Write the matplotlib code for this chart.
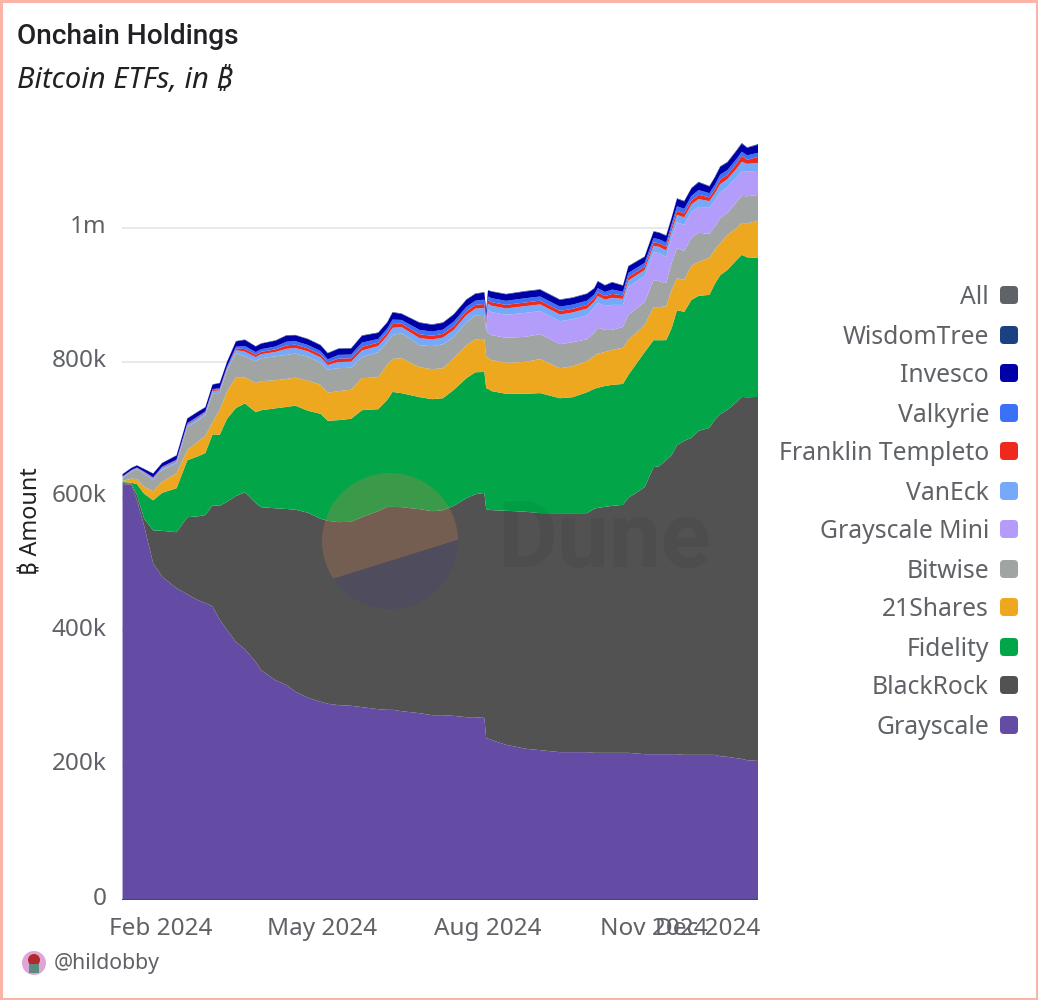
#!/usr/bin/env python3
"""Onchain Holdings - bitcoin ETF holdings as a stacked area chart."""
import matplotlib
matplotlib.use("Agg")
import matplotlib.dates as mdates
import matplotlib.pyplot as plt
import pandas as pd
from matplotlib.patches import Circle, FancyBboxPatch, Polygon, Rectangle
from matplotlib.transforms import ScaledTranslation

plt.rcParams["font.family"] = ["Noto Sans", "DejaVu Sans"]
HEAD_FONT = ["Roboto", "DejaVu Sans"]

# days since the first trading day, holdings in thousands of BTC
launch = pd.Timestamp("2024-01-11")
day_offsets = [
    0, 5, 8, 12, 17, 22, 30, 36, 42, 46,
    50, 54, 58, 63, 68, 74, 77, 85, 91, 96,
    103, 110, 114, 120, 127, 133, 142, 147, 150, 155,
    165, 172, 178, 184, 191, 196, 201, 202, 203, 205,
    213, 224, 232, 243, 250, 258, 262, 264, 268, 272,
    278, 281, 290, 295, 298, 302, 305, 308, 312, 316,
    320, 326, 329, 332, 336, 341, 344, 347, 353,
]
grayscale = [
    619, 618, 595, 557, 501, 481, 464, 455, 446, 442,
    437, 417, 402, 384, 373, 354, 342, 327, 320, 310,
    301, 295, 292, 290, 289, 287, 284, 283, 283, 281,
    278, 275, 275, 274, 272, 272, 271, 241, 240, 238,
    231, 225, 223, 220, 220, 220, 219, 219, 219, 219,
    219, 219, 217, 217, 217, 217, 217, 217, 216, 216,
    216, 216, 216, 214, 213, 211, 210, 208, 207,
]
blackrock = [
    0, 1.5, 7.4, 10.4, 49.1, 68.4, 83.3, 114.6, 125, 130.9,
    150.3, 169.6, 190.5, 217.2, 233.6, 236.6, 242.5, 255.9, 261.9, 270.8,
    275.3, 272.3, 272.3, 272.3, 273.8, 282.7, 294.6, 302, 302, 303.6,
    303.6, 303.6, 305, 312.5, 325.9, 331.8, 334.8, 340.8, 340.8, 342.2,
    348.2, 352.7, 352.7, 355.6, 355.6, 355.6, 363.1, 364.6, 366, 367.5,
    369, 379.4, 397.3, 427.1, 428.5, 437.5, 444.9, 459.8, 467.2, 471.7,
    482.1, 486.6, 498.5, 508.9, 516.3, 529.7, 538.7, 540.1, 541.6,
]
fidelity = [
    3, 1.5, 16.4, 37.2, 44.6, 56.5, 65.5, 84.8, 89.3, 92.3,
    105.6, 105.6, 123.5, 130.9, 132.4, 135.4, 144.3, 148.8, 151.8, 154.8,
    151.8, 156.2, 148.8, 151.8, 153.3, 159.2, 151.8, 159.2, 171.1, 169.6,
    166.7, 166.7, 166.7, 172.6, 178.6, 181.5, 180, 180, 180, 177.1,
    174.1, 175.6, 178.6, 171.1, 172.6, 180, 178.6, 178.6, 180, 180,
    180, 183, 200.9, 189, 187.5, 178.6, 189, 200.9, 192, 205.3,
    200.9, 197.9, 202.4, 206.8, 208.3, 211.3, 211.3, 208.3, 206.8,
]
shares21 = [
    1.5, 6, 7.4, 10.4, 13.4, 16.4, 22.3, 14.9, 22.3, 25.3,
    17.9, 37.2, 40.2, 46.1, 38.7, 43.2, 43.2, 41.7, 41.7, 41.7,
    44.6, 43.2, 41.7, 43.2, 43.2, 47.6, 47.6, 52.1, 49.1, 52.1,
    44.6, 44.6, 44.6, 47.6, 49.1, 49.1, 49.1, 47.6, 46.1, 46.1,
    46.1, 47.6, 50.6, 44.6, 46.1, 46.1, 49.1, 50.6, 50.6, 52.1,
    53.6, 52.1, 40.2, 49.1, 49.1, 50.6, 56.5, 47.6, 47.6, 50.6,
    50.6, 55.1, 50.6, 47.6, 52.1, 47.6, 47.6, 50.6, 55.1,
]
bitwise = [
    4.5, 10.4, 14.9, 19.3, 16.4, 17.9, 14.9, 34.2, 31.2, 31.2,
    43.2, 25.3, 31.2, 35.7, 31.2, 32.7, 34.2, 35.7, 35.7, 35.7,
    35.7, 32.7, 34.2, 34.2, 32.7, 31.2, 37.2, 34.2, 35.7, 37.2,
    32.7, 34.2, 35.7, 31.2, 34.2, 35.7, 35.7, 38.7, 37.2, 37.2,
    37.2, 37.2, 37.2, 35.7, 35.7, 32.7, 34.2, 38.7, 32.7, 29.8,
    31.2, 37.2, 34.2, 40.2, 38.7, 34.2, 40.2, 44.6, 43.2, 41.7,
    43.2, 35.7, 34.2, 37.2, 32.7, 38.7, 40.2, 40.2, 38.7,
]
grayscale_mini = [0] * 38 + [
    34.2, 34.2, 34.2, 35.7, 34.2, 34.2, 34.2, 35.7, 37.2, 37.2,
    35.7, 37.2, 32.7, 41.7, 38.7, 41.7, 41.7, 38.7, 38.7, 38.7,
    38.7, 38.7, 38.7, 38.7, 38.7, 38.7, 38.7, 37.2, 37.2, 37.2, 34.2,
]
vaneck = [
    1.5, 1.5, 1.5, 1.8, 2.6, 2.6, 3, 3.4, 3.4, 3,
    3.4, 3.7, 3.4, 4.5, 7, 6, 6, 6.5, 9, 8.5,
    8, 8, 7, 9, 9, 10, 9, 9, 10.5, 9,
    10.5, 10, 10, 10.5, 10.5, 10, 10.5, 9, 9, 9.5,
    9.5, 10, 10, 10, 10, 10, 9, 10, 9.5, 10.5,
    9, 9.5, 9, 9.5, 9.5, 10, 9, 11, 11, 11,
    11.5, 10, 11, 12, 11.5, 12.5, 13.5, 11, 13.5,
]
franklin = [
    0.5, 0.5, 0.5, 0.7, 1, 1, 1.2, 1.4, 1.4, 1.2,
    1.4, 1.6, 1.4, 2.2, 4, 3.5, 3.5, 3.8, 5.2, 5,
    4.5, 4.5, 4, 5.2, 5.2, 5.5, 5.2, 5.2, 5.8, 5.2,
    5.8, 5.5, 5.5, 5.8, 5.8, 5.5, 5.8, 5.2, 5.2, 5.3,
    5.3, 5.5, 5.5, 5.5, 5.5, 5.5, 5.2, 5.5, 5.3, 5.8,
    5.2, 5.3, 5.2, 5.3, 5.3, 5.5, 5.2, 6, 6, 6,
    6.5, 5.5, 6, 7, 6.5, 7.5, 9, 6, 9,
]
valkyrie = [
    0.5, 0.5, 0.5, 0.7, 1, 1, 1.2, 1.4, 1.4, 1.2,
    1.4, 1.7, 1.4, 2.7, 4.5, 4, 4, 4.3, 5.5, 5.2,
    5, 5, 4.5, 5.5, 5.5, 6.3, 5.5, 5.5, 6.5, 5.5,
    6.5, 6.3, 6.3, 6.5, 6.5, 6.3, 6.5, 5.5, 5.5, 6,
    6, 6.3, 6.3, 6.3, 6.3, 6.3, 5.5, 6.3, 6, 6.5,
    5.5, 6, 5.5, 6, 6, 6.3, 5.5, 6.8, 6.8, 6.8,
    7, 6.3, 6.8, 7.2, 7, 7, 6, 6.8, 6,
]
invesco = [
    3, 3, 3, 3.8, 5.4, 5.4, 6, 6.7, 6.7, 6,
    6.7, 7.4, 6.7, 7.9, 9, 8.2, 8.2, 8.6, 9, 8.6,
    8.6, 8.6, 9, 9, 9, 10, 9, 9, 10.5, 9,
    10.5, 10, 10, 10.5, 10.5, 10, 10.5, 9, 9, 9.7,
    9.7, 10, 10, 10, 10, 10, 9, 10, 9.7, 10.5,
    9, 9.7, 9, 9.7, 9.7, 10, 9, 11, 11, 11,
    11.4, 10, 11, 11.5, 11.4, 12.2, 12, 11, 12,
]
wisdomtree = [
    0.4, 0.4, 0.4, 0.4, 0.4, 0.4, 0.5, 0.5, 0.5, 0.5,
    0.5, 0.5, 0.5, 0.6, 0.7, 0.6, 0.6, 0.6, 0.7, 0.7,
    0.7, 0.7, 0.7, 0.7, 0.7, 0.8, 0.7, 0.7, 0.8, 0.7,
    0.8, 0.8, 0.8, 0.8, 0.8, 0.8, 0.8, 0.7, 0.7, 0.7,
    0.7, 0.8, 0.8, 0.8, 0.8, 0.8, 0.7, 0.8, 0.7, 0.8,
    0.7, 0.7, 0.7, 0.7, 0.7, 0.8, 0.7, 0.9, 0.9, 0.9,
    0.9, 0.8, 0.9, 1, 0.9, 1, 1, 0.9, 1,
]

stack_values = [grayscale, blackrock, fidelity, shares21, bitwise, grayscale_mini,
                vaneck, franklin, valkyrie, invesco, wisdomtree]
stack_colors = ["#644CA5", "#525252", "#02A649", "#EEA81F", "#A0A4A3", "#B49CFB",
                "#76A9FA", "#EE2A1E", "#3B71F7", "#0000A8", "#1A4282"]
legend_names = ["All", "WisdomTree", "Invesco", "Valkyrie", "Franklin Templeto", "VanEck",
                "Grayscale Mini", "Bitwise", "21Shares", "Fidelity", "BlackRock", "Grayscale"]
legend_colors = ["#5F6266"] + stack_colors[::-1]
legend_rows = [295, 335, 373, 413, 451, 491, 529, 569, 607, 647, 685, 725]

y_ticks = [0, 200, 400, 600, 800, 1000]
y_tick_labels = ["0", "200k", "400k", "600k", "800k", "1m"]
x_ticks = ["2024-02-01", "2024-05-01", "2024-08-01", "2024-11-01", "2024-12-01"]
x_tick_labels = ["Feb 2024", "May 2024", "Aug 2024", "Nov 2024", "Dec 2024"]

GREY = "#5F6266"
W, H = 1038, 1000

dates = launch + pd.to_timedelta(day_offsets, unit="D")

fig = plt.figure(figsize=(W / 100, H / 100), dpi=100, facecolor="white")
ax = fig.add_axes([122 / W, 1 - 900 / H, (758 - 122) / W, (900 - 130) / H])
ax.stackplot(dates, stack_values, colors=stack_colors, linewidth=0, zorder=3)
ax.axhline(0, color="#4A4560", lw=1.5, zorder=4)

ax.set_xlim(launch - pd.Timedelta(days=0.3), launch + pd.Timedelta(days=353))
ax.set_ylim(0, (900 - 130) / 0.672)
ax.set_yticks(y_ticks)
ax.set_yticklabels(y_tick_labels, fontsize=17.5, color=GREY)
ax.set_xticks(mdates.date2num(pd.to_datetime(x_ticks)))
ax.set_xticklabels(x_tick_labels, fontsize=17.5, color=GREY)
ax.tick_params(length=0)
ax.tick_params(axis="y", pad=11)
ax.tick_params(axis="x", pad=12.5)
ax.grid(axis="y", color="#E8E9EB", lw=1.5, zorder=0)
ax.set_axisbelow(True)
for s in ax.spines.values():
    s.set_visible(False)
# the tick labels sit slightly above their grid lines
shift = ScaledTranslation(0, 3 / 72, fig.dpi_scale_trans)
for lab in ax.get_yticklabels():
    lab.set_transform(lab.get_transform() + shift)

# everything else is placed in image pixels
over = fig.add_axes([0, 0, 1, 1], facecolor="none")
over.set_xlim(0, W)
over.set_ylim(H, 0)
over.axis("off")

over.add_patch(Rectangle((1, 1), W - 2, H - 2, fill=False, ec="#FBB4A8", lw=2.2))
over.text(17, 37, "Onchain Holdings", fontsize=20.2, fontweight="medium", family=HEAD_FONT,
          color="#1F2124", va="center")
over.text(17, 80, "Bitcoin ETFs, in ₿", fontsize=21, style="italic", color="#1F2124", va="center")
over.text(31, 521, "₿ Amount", fontsize=16.8, fontweight="semibold", color="#1F2124",
          rotation=90, ha="center", va="center")

# Dune watermark
mark_top = Polygon([(310, 450), (470, 450), (470, 536), (310, 586)], closed=True, fc="none", ec="none")
mark_low = Polygon([(310, 586), (470, 536), (470, 630), (310, 630)], closed=True, fc="none", ec="none")
over.add_patch(mark_top)
over.add_patch(mark_low)
top_half = Circle((390, 541), 68, fc=(207 / 255, 123 / 255, 79 / 255), ec="none", alpha=0.28)
low_half = Circle((390, 541), 68, fc=(68 / 255, 61 / 255, 125 / 255), ec="none", alpha=0.28)
over.add_patch(top_half)
over.add_patch(low_half)
top_half.set_clip_path(mark_top)
low_half.set_clip_path(mark_low)
over.text(497, 542, "Dune", fontsize=66.5, fontweight="bold", family=HEAD_FONT, color="black",
          alpha=0.06, va="center")

# legend
for name, color, row in zip(legend_names, legend_colors, legend_rows):
    over.text(989, row + 2, name, fontsize=17.8, color=GREY, ha="right", va="center")
    over.add_patch(FancyBboxPatch((1002, row - 7), 14, 14, boxstyle="round,pad=2,rounding_size=4",
                                  fc=color, ec="none"))

# author badge
over.add_patch(Circle((34, 963), 12, fc="#DDA6D6", ec="none"))
over.add_patch(Circle((34, 960), 6, fc="#B3282D", ec="none"))
over.add_patch(Rectangle((29, 964), 10, 9, fc="#5C8A7F", ec="none"))
over.text(54, 964, "@hildobby", fontsize=15.3, color=GREY, va="center")

fig.savefig("out.png", dpi=100)
